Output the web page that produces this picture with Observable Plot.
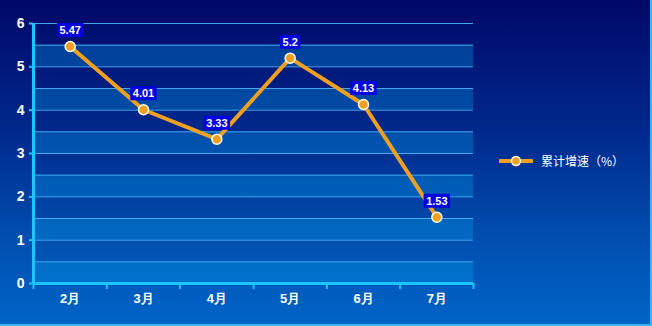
<!DOCTYPE html>
<html>
<head>
<meta charset="utf-8">
<script src="https://cdn.jsdelivr.net/npm/d3@7"></script>
<script src="https://cdn.jsdelivr.net/npm/@observablehq/plot@0.6"></script>
<style>
  html, body { margin: 0; padding: 0; }
  body { width: 652px; height: 326px; overflow: hidden; }
  #wrap {
    position: relative; width: 650px; height: 324px;
    background: linear-gradient(to bottom, #000868 0%, #00288c 40%, #0050b0 75%, #0064c8 100%);
    border-right: 2px solid #3ab4f0; border-bottom: 2px solid #3ab4f0;
    font-family: "Liberation Sans", Arial, sans-serif;
  }
  #legend {
    position: absolute; left: 499px; top: 152px; display: flex; align-items: center;
    color: white; font-size: 12px; font-family: "Noto Sans CJK SC", "Liberation Sans", sans-serif;
  }
</style>
</head>
<body>
<div id="wrap">
  <div id="chart"></div>
  <div id="legend"></div>
</div>
<script>
const months = ["2月", "3月", "4月", "5月", "6月", "7月"];
const values = [5.47, 4.01, 3.33, 5.2, 4.13, 1.53];
const seriesName = "累计增速（%）";
const yTicks = [0, 1, 2, 3, 4, 5, 6];
const bandStarts = [0, 1, 2, 3, 4, 5];
const gridValues = [0.5, 1, 1.5, 2, 2.5, 3, 3.5, 4, 4.5, 5, 5.5, 6];

const data = months.map((m, i) => ({month: m, idx: i, value: values[i]}));
const boundaries = d3.range(-0.5, months.length, 1);

const lineColor = "#f0a020";
const axisColor = "#1ec4ff";

const plot = Plot.plot({
  width: 650,
  height: 324,
  marginLeft: 33,
  marginRight: 177,
  marginTop: 23,
  marginBottom: 41,
  style: {background: "transparent", overflow: "visible", fontFamily: "'Liberation Sans', Arial, sans-serif"},
  x: {type: "linear", domain: [-0.5, months.length - 0.5]},
  y: {domain: [0, 6]},
  marks: [
    Plot.rect(bandStarts, {y1: d => d, y2: d => d + 0.5, fill: "#00aaf0", fillOpacity: 0.3}),
    Plot.ruleY(gridValues, {stroke: "#40a8f0", strokeWidth: 1}),
    Plot.axisY({ticks: yTicks, tickFormat: d3.format("d"), tickSize: 4, tickPadding: 5, stroke: axisColor, strokeWidth: 2, fill: "white",
      fontSize: 14, fontWeight: "bold", label: null}),
    Plot.axisX({ticks: boundaries, tickSize: 6, stroke: axisColor, strokeWidth: 2, tickFormat: () => "", label: null}),
    Plot.axisX({ticks: d3.range(months.length), tickSize: 0, tickPadding: 10, tickFormat: i => months[i],
      fill: "white", fontSize: 13, fontWeight: "bold", label: null}),
    Plot.ruleY([0], {stroke: axisColor, strokeWidth: 3}),
    Plot.ruleX([-0.5], {stroke: axisColor, strokeWidth: 3}),
    Plot.line(data, {x: "idx", y: "value", stroke: lineColor, strokeWidth: 4}),
    Plot.dot(data, {x: "idx", y: "value", r: 5, fill: lineColor, stroke: "white", strokeWidth: 1.5}),
    Plot.text(data, {x: "idx", y: "value", text: d => String(d.value), dy: -16, fill: "white",
      fontSize: 11, fontWeight: "bold", className: "vlabel"})
  ]
});
document.getElementById("chart").appendChild(plot);

// blue boxes behind value labels
d3.select(plot).selectAll("g.vlabel text").each(function() {
  const bb = this.getBBox();
  d3.select(this.parentNode).insert("rect", () => this)
    .attr("x", bb.x - 2.5).attr("y", bb.y - 1)
    .attr("width", bb.width + 5).attr("height", bb.height + 2)
    .attr("fill", "#0000e0")
    .attr("transform", this.getAttribute("transform"));
});

// legend
const lg = d3.select("#legend");
const sw = lg.append("svg").attr("width", 34).attr("height", 14).style("margin-right", 8);
sw.append("line").attr("x1", 1).attr("x2", 33).attr("y1", 7).attr("y2", 7)
  .attr("stroke", lineColor).attr("stroke-width", 4).attr("stroke-linecap", "round");
sw.append("circle").attr("cx", 17).attr("cy", 7).attr("r", 4.5)
  .attr("fill", lineColor).attr("stroke", "white").attr("stroke-width", 1.5);
lg.append("span").text(seriesName);
</script>
</body>
</html>
